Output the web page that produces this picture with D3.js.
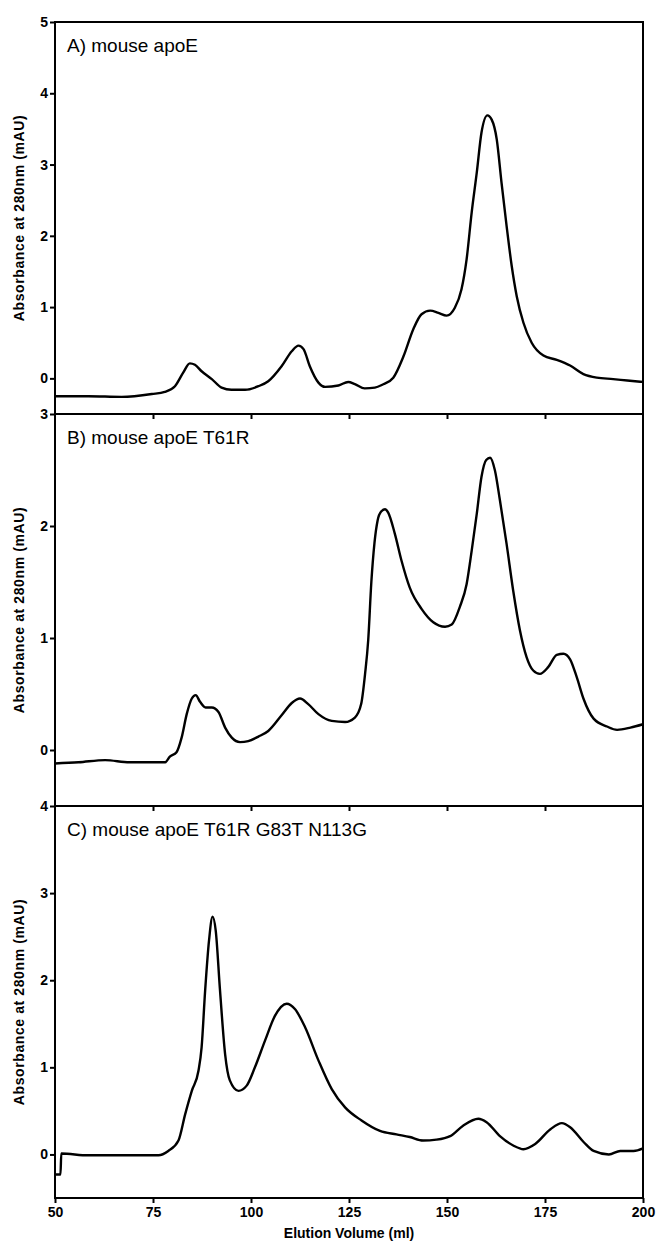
<!DOCTYPE html>
<html>
<head>
<meta charset="utf-8">
<script src="https://cdn.jsdelivr.net/npm/d3@7"></script>
<style>
  body { margin: 0; background: #fff; }
  text { font-family: 'Liberation Sans', Arial, sans-serif; }
  .tick text { font-weight: bold; font-size: 14px; }
  .axis-title { font-weight: bold; font-size: 14px; }
  .panel-label { font-size: 19px; }
</style>
</head>
<body>
<script>
const fullWidth = 656
const fullHeight = 1244
const margin = { top: 22, right: 13, bottom: 47, left: 55 }
const panelHeight = 392

const labels = ['A) mouse apoE', 'B) mouse apoE T61R', 'C) mouse apoE T61R G83T N113G']
const yDomains = [[-0.5, 5], [-0.5, 3], [-0.5, 4]]
const yTicks = [[0, 1, 2, 3, 4, 5], [0, 1, 2, 3], [0, 1, 2, 3, 4]]
const xTicks = [50, 75, 100, 125, 150, 175, 200]

// elution volume (ml), absorbance (mAU)
const traceA = [
  [50, -0.25], [58.5, -0.25], [67, -0.26], [74.7, -0.22], [78, -0.19], [80.6, -0.11],
  [82.7, 0.08], [84.4, 0.21], [85.7, 0.19], [87.4, 0.10], [90, -0.01], [92.5, -0.13],
  [95, -0.16], [98.5, -0.16], [101.9, -0.11], [104.4, -0.04], [107.8, 0.17], [110.4, 0.38],
  [112.1, 0.46], [113.4, 0.41], [115, 0.17], [117.2, -0.06], [118.9, -0.12], [122.3, -0.10],
  [124.8, -0.05], [126.5, -0.08], [129, -0.14], [131.6, -0.13], [133.5, -0.09], [136.3, 0.01],
  [138.9, 0.31], [141.4, 0.69], [143.5, 0.90], [145.7, 0.95], [147.8, 0.92], [149.9, 0.88],
  [152, 0.99], [153.7, 1.25], [155, 1.67], [156.3, 2.33], [157.6, 2.89], [158.8, 3.45],
  [160.3, 3.69], [161.4, 3.63], [162.7, 3.35], [163.9, 2.75], [165.2, 2.14], [166.5, 1.58],
  [167.8, 1.15], [169.5, 0.78], [171.6, 0.50], [174.6, 0.32], [178, 0.26], [181.4, 0.18],
  [184.8, 0.06], [188.2, 0.01], [192.4, -0.01], [196, -0.03], [200, -0.05]
]

const traceB = [
  [50, -0.12], [56, -0.11], [62.8, -0.09], [69, -0.11], [75.5, -0.11], [78.1, -0.11],
  [79.3, -0.06], [81, -0.02], [82.3, 0.11], [83.6, 0.32], [84.9, 0.46], [85.9, 0.49],
  [87, 0.43], [88.4, 0.38], [90, 0.38], [91.7, 0.34], [93.4, 0.20], [95.1, 0.11],
  [97.2, 0.07], [99.3, 0.08], [101.9, 0.12], [104.4, 0.17], [107.8, 0.31], [110.4, 0.42],
  [112.5, 0.46], [114.6, 0.41], [117.2, 0.32], [120.6, 0.26], [124, 0.25], [126.5, 0.29],
  [128.1, 0.41], [129.1, 0.68], [129.9, 0.98], [130.7, 1.5], [131.5, 1.85], [132.3, 2.05],
  [133.2, 2.13], [134.2, 2.15], [135, 2.12], [136.7, 1.93], [138.4, 1.69], [140.5, 1.45],
  [143.5, 1.26], [146.5, 1.14], [149.5, 1.10], [151.2, 1.12], [153.3, 1.28], [155, 1.48],
  [156.3, 1.78], [157.6, 2.11], [158.8, 2.44], [160, 2.59], [161, 2.61], [162.2, 2.50],
  [163.5, 2.23], [165.2, 1.84], [166.9, 1.42], [168.6, 1.07], [170.3, 0.83], [172, 0.71],
  [173.7, 0.68], [175.8, 0.74], [178, 0.85], [179.7, 0.86], [181.4, 0.81], [183.1, 0.65],
  [184.8, 0.46], [187.4, 0.28], [190.8, 0.21], [193.4, 0.18], [196.8, 0.20], [200, 0.23]
]

const traceC = [
  [50, -0.23], [51.4, -0.23], [51.6, 0.01], [58.5, -0.01], [67, -0.01], [76.4, -0.01],
  [78.9, 0.04], [81.5, 0.16], [83.2, 0.46], [84.9, 0.73], [86.6, 0.96], [87.4, 1.23],
  [88.3, 1.88], [89.3, 2.46], [90.2, 2.73], [91, 2.57], [92.1, 1.88], [93.4, 1.15],
  [94.6, 0.85], [96.8, 0.73], [98.9, 0.79], [101, 1.00], [103.6, 1.31], [106.1, 1.59],
  [109.1, 1.73], [111.2, 1.67], [113.8, 1.46], [117.2, 1.08], [120.6, 0.75], [124, 0.54],
  [128.2, 0.39], [132.9, 0.27], [137.1, 0.23], [140.5, 0.20], [143.9, 0.16], [147.3, 0.17],
  [150.8, 0.21], [154.1, 0.33], [158, 0.41], [160.1, 0.37], [163.5, 0.21], [167, 0.10],
  [169.5, 0.06], [172.5, 0.12], [176.4, 0.29], [179.3, 0.36], [181.5, 0.31], [184.9, 0.14],
  [187.4, 0.04], [191.3, 0.00], [194.2, 0.04], [197.6, 0.04], [200, 0.07]
]

const traces = [traceA, traceB, traceC]

const width = fullWidth - margin.left - margin.right

const svg = d3.select('body')
  .append('svg')
  .attr('width', fullWidth)
  .attr('height', fullHeight)

const x = d3.scaleLinear()
  .domain([50, 200])
  .range([0, width])

traces.forEach((trace, i) => {
  const g = svg.append('g')
    .attr('transform', `translate(${margin.left},${margin.top + i * panelHeight})`)

  const y = d3.scaleLinear()
    .domain(yDomains[i])
    .range([panelHeight, 0])

  // ---------------Axes---------------
  const yAxis = g.append('g')
    .call(d3.axisLeft(y)
      .tickValues(yTicks[i])
      .tickSize(5)
      .tickSizeOuter(0)
      .tickPadding(2)
      .tickFormat(d3.format('d')))
  yAxis.select('.domain').remove()
  yAxis.selectAll('.tick line').attr('stroke-width', 2)

  const last = i === traces.length - 1
  const xAxis = g.append('g')
    .attr('transform', `translate(0,${panelHeight})`)
    .call(d3.axisBottom(x)
      .tickValues(last ? xTicks : xTicks.slice(1, -1))
      .tickSize(5)
      .tickSizeOuter(0)
      .tickPadding(4)
      .tickFormat(last ? d3.format('d') : ''))
  xAxis.select('.domain').remove()
  xAxis.selectAll('.tick line').attr('stroke-width', 2)

  // frame
  g.append('rect')
    .attr('width', width)
    .attr('height', panelHeight)
    .attr('fill', 'none')
    .attr('stroke', '#000')
    .attr('stroke-width', 2)

  // ---------------Trace---------------
  const line = d3.line()
    .x(d => x(d[0]))
    .y(d => y(d[1]))
    .curve(d3.curveMonotoneX)

  g.append('path')
    .datum(trace)
    .attr('fill', 'none')
    .attr('stroke', '#000')
    .attr('stroke-width', 2.4)
    .attr('stroke-linejoin', 'round')
    .attr('d', line)

  g.append('text')
    .attr('class', 'panel-label')
    .attr('x', 12)
    .attr('y', 30)
    .text(labels[i])

  g.append('text')
    .attr('class', 'axis-title')
    .attr('transform', `translate(${-31},${panelHeight / 2}) rotate(-90)`)
    .attr('text-anchor', 'middle')
    .attr('letter-spacing', 0.6)
    .text('Absorbance at 280nm (mAU)')
})

svg.append('text')
  .attr('class', 'axis-title')
  .attr('x', margin.left + width / 2)
  .attr('y', margin.top + 3 * panelHeight + 40)
  .attr('text-anchor', 'middle')
  .text('Elution Volume (ml)')
</script>
</body>
</html>
